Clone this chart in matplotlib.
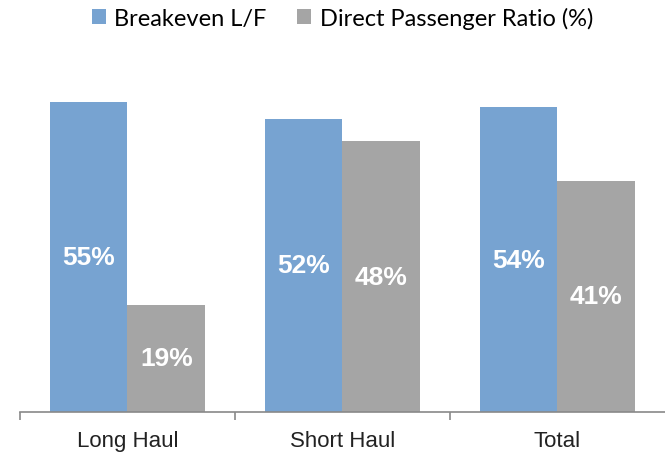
import matplotlib.pyplot as plt
import numpy as np

categories = ["Long Haul", "Short Haul", "Total"]
breakeven = [55, 52, 54]
direct_ratio = [19, 48, 41]
series_names = ["Breakeven L/F", "Direct Passenger Ratio (%)"]

blue = "#77A3D1"
grey = "#A5A5A5"

fig = plt.figure(figsize=(6.65, 4.56), dpi=100)
ax = fig.add_axes([0.030, 0.094, 0.970, 0.743])

x = np.arange(len(categories))
w = 0.362
b1 = ax.bar(x - w / 2, breakeven, w, color=blue, label=series_names[0])
b2 = ax.bar(x + w / 2, direct_ratio, w, color=grey, label=series_names[1])

for bars, vals in [(b1, breakeven), (b2, direct_ratio)]:
    for r, v in zip(bars, vals):
        ax.text(r.get_x() + r.get_width() / 2, v / 2, "{}%".format(v),
                ha="center", va="center", color="white", fontsize=19,
                fontweight="bold", family="Liberation Sans")

ax.set_xlim(-0.5, 2.5)
ax.set_ylim(0, 60)
ax.set_yticks([])
for s in ["top", "right", "left"]:
    ax.spines[s].set_visible(False)
ax.spines["bottom"].set_color("#898989")
ax.spines["bottom"].set_linewidth(1.2)

# category labels at centres, tick marks at boundaries
ax.set_xticks(x)
ax.set_xticklabels(categories, fontsize=16, family="Liberation Sans", color="#222222")
ax.tick_params(axis="x", which="major", length=0, pad=13)
ax.set_xticks([-0.5, 0.5, 1.5], minor=True)
ax.tick_params(axis="x", which="minor", length=6, color="#898989", width=1.2)

fig.legend(handles=[b1, b2], labels=series_names, loc="upper center",
           bbox_to_anchor=(0.515, 1.03), ncol=2, frameon=False,
           prop={"family": "Lato", "size": 17}, handlelength=0.6,
           handleheight=0.6, handletextpad=0.35, columnspacing=1.3)

plt.savefig("out.png", dpi=100)
